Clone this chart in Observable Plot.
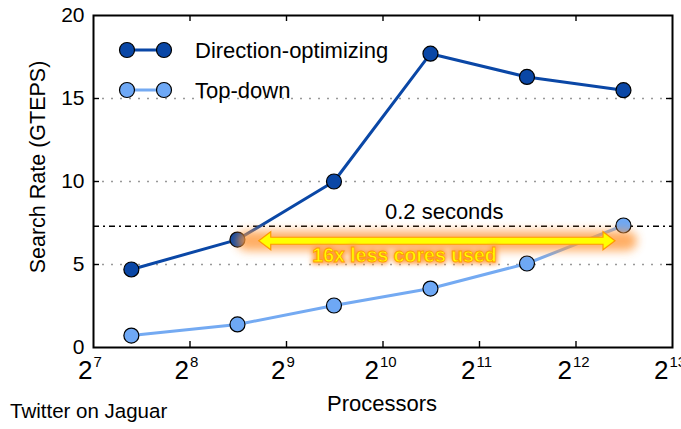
<!DOCTYPE html>
<html><head><meta charset="utf-8">
<script src="https://cdn.jsdelivr.net/npm/d3@7"></script>
<script src="https://cdn.jsdelivr.net/npm/@observablehq/plot@0.6"></script>
<style>
body{margin:0;background:#fff}
</style>
</head><body><div id="chart"></div>
<script>
// ---- data ----
const processors = [168, 360, 720, 1440, 2880, 5760];
const directionOptimizing = [4.7, 6.5, 10.0, 17.7, 16.3, 15.5];
const topDown = [0.72, 1.39, 2.53, 3.55, 5.06, 7.35];
const seriesNames = ["Direction-optimizing", "Top-down"];
const xTickExponents = [7, 8, 9, 10, 11, 12, 13];
const yTicks = [0, 5, 10, 15, 20];
const gridY = [5, 10, 15];
const thresholdRate = 7.3;
const thresholdLabel = "0.2 seconds";
const arrowLabel = "16x less cores used";
const arrowSpan = [421, 5440];
const arrowRate = 6.4;
const xLabel = "Processors";
const yLabel = "Search Rate (GTEPS)";
const caption = "Twitter on Jaguar";

const FONT = "'Liberation Sans', Arial, sans-serif";
const darkBlue = "#0a47a6", lightBlue = "#6ea8f5", lightLine = "#74aaf2";
const W = 681, H = 429, mL = 93, mR = 9, mT = 15, mB = 82;
const pw = W - mL - mR, ph = H - mT - mB;

const rowsD = processors.map((p, i) => ({p, v: directionOptimizing[i]}));
const rowsT = processors.map((p, i) => ({p, v: topDown[i]}));
const xTicks = xTickExponents.map(e => 2 ** e);
const innerTicks = xTicks.slice(1, -1);

const chart = Plot.plot({
  width: W, height: H,
  marginLeft: mL, marginRight: mR, marginTop: mT, marginBottom: mB,
  style: {fontFamily: FONT, background: "#fff", overflow: "visible"},
  x: {type: "log", base: 2, domain: [128, 8192], axis: null},
  y: {domain: [0, 20], axis: null},
  marks: [
    Plot.ruleY(gridY, {stroke: "#999", strokeWidth: 1.3, strokeDasharray: "2,7"}),
    Plot.ruleY([thresholdRate], {stroke: "#000", strokeWidth: 1.6, strokeDasharray: "6,4,2,4"}),
    // inward ticks
    Plot.ruleX(innerTicks, {x: d => d, insetTop: ph - 6, stroke: "#000", strokeWidth: 1.4}),
    Plot.ruleX(innerTicks, {x: d => d, insetBottom: ph - 6, stroke: "#000", strokeWidth: 1.4}),
    Plot.ruleY(gridY, {y: d => d, insetRight: pw - 6, stroke: "#000", strokeWidth: 1.4}),
    Plot.ruleY(gridY, {y: d => d, insetLeft: pw - 6, stroke: "#000", strokeWidth: 1.4}),
    Plot.frame({stroke: "#000", strokeWidth: 2}),
    // y tick labels
    Plot.text(yTicks, {x: 128, y: d => d, text: d => String(d), textAnchor: "end", dx: -9, fontSize: 21, fill: "#000"}),
    // x tick labels (base + exponent)
    Plot.text(xTickExponents.filter(e => e < 10), {x: e => 2 ** e, text: () => "2", frameAnchor: "bottom", textAnchor: "end", dx: -1, dy: 31, fontSize: 26, fill: "#000"}),
    Plot.text(xTickExponents.filter(e => e < 10), {x: e => 2 ** e, text: e => String(e), frameAnchor: "bottom", textAnchor: "start", dx: 0, dy: 19, fontSize: 15, fill: "#000"}),
    Plot.text(xTickExponents.filter(e => e >= 10), {x: e => 2 ** e, text: () => "2", frameAnchor: "bottom", textAnchor: "end", dx: -4, dy: 31, fontSize: 26, fill: "#000"}),
    Plot.text(xTickExponents.filter(e => e >= 10), {x: e => 2 ** e, text: e => String(e), frameAnchor: "bottom", textAnchor: "start", dx: -3, dy: 19, fontSize: 15, fill: "#000"}),
    // series
    Plot.line(rowsD, {x: "p", y: "v", stroke: darkBlue, strokeWidth: 3}),
    Plot.line(rowsT, {x: "p", y: "v", stroke: lightLine, strokeWidth: 3}),
    Plot.dot(rowsD, {x: "p", y: "v", r: 7.5, fill: darkBlue, stroke: "#000", strokeWidth: 1.2}),
    Plot.dot(rowsT, {x: "p", y: "v", r: 7.5, fill: lightBlue, stroke: "#000", strokeWidth: 1.2}),
    // threshold label
    Plot.text([thresholdLabel], {x: 1590, y: thresholdRate, text: d => d, dy: -14, fontSize: 22, fill: "#000"})
  ]
});

document.getElementById("chart").appendChild(chart);

// annotations (pixel layout)
const svg = d3.select(chart);
const sx = d3.scaleLog().base(2).domain([128, 8192]).range([mL, W - mR]);
const sy = d3.scaleLinear().domain([0, 20]).range([H - mB, mT]);

const defs = svg.insert("defs", ":first-child");
const f = defs.append("filter").attr("id", "glow").attr("x", "-20%").attr("y", "-200%").attr("width", "140%").attr("height", "500%");
f.append("feGaussianBlur").attr("stdDeviation", 5);
const f2 = defs.append("filter").attr("id", "tglow").attr("x", "-20%").attr("y", "-50%").attr("width", "140%").attr("height", "200%");
f2.append("feGaussianBlur").attr("stdDeviation", 2.5);

const ax0 = sx(arrowSpan[0]), ax1 = sx(arrowSpan[1]), ay = sy(arrowRate);
const ann = svg.append("g").attr("font-family", FONT);
// glow behind arrow
ann.append("rect").attr("x", ax0 - 22).attr("y", ay - 10).attr("width", ax1 - ax0 + 44).attr("height", 20)
  .attr("rx", 10).attr("fill", "#ff9a3c").attr("opacity", 0.8).attr("filter", "url(#glow)");
const sh = 3.5, hh = 9, hl = 12;
const path = `M${ax0},${ay} L${ax0 + hl},${ay - hh} L${ax0 + hl},${ay - sh} L${ax1 - hl},${ay - sh} L${ax1 - hl},${ay - hh} L${ax1},${ay} L${ax1 - hl},${ay + hh} L${ax1 - hl},${ay + sh} L${ax0 + hl},${ay + sh} L${ax0 + hl},${ay + hh} Z`;
ann.append("path").attr("d", path).attr("fill", "#ffff00").attr("stroke", "#ff9900").attr("stroke-width", 1.2);
const tx = sx(1200), ty = sy(5.56);
ann.append("text").attr("x", tx).attr("y", ty).attr("text-anchor", "middle").attr("dy", "0.35em")
  .attr("font-size", 19.5).attr("font-weight", "bold").attr("fill", "#ff9a3c").attr("stroke", "#ff9a3c").attr("stroke-width", 4)
  .attr("filter", "url(#tglow)").text(arrowLabel);
ann.append("text").attr("x", tx).attr("y", ty).attr("text-anchor", "middle").attr("dy", "0.35em")
  .attr("font-size", 19.5).attr("font-weight", "bold").attr("fill", "#ffff00").attr("stroke", "#ff9900").attr("stroke-width", 0.8)
  .text(arrowLabel);

// legend
const leg = svg.append("g").attr("font-family", FONT);
[[darkBlue, darkBlue, 50], [lightLine, lightBlue, 90]].forEach(([lc, fc, y], i) => {
  leg.append("line").attr("x1", 127).attr("x2", 164).attr("y1", y).attr("y2", y).attr("stroke", lc).attr("stroke-width", 3);
  [127, 164].forEach(cx => leg.append("circle").attr("cx", cx).attr("cy", y).attr("r", 7.5).attr("fill", fc).attr("stroke", "#000").attr("stroke-width", 1.2));
  leg.append("text").attr("x", 195).attr("y", y).attr("dy", "0.36em").attr("text-anchor", "start").attr("font-size", 22).attr("fill", "#000").text(seriesNames[i]);
});

// axis titles and caption
const tg = svg.append("g").attr("font-family", FONT).attr("fill", "#000");
tg.append("text").attr("x", 382).attr("y", 411).attr("text-anchor", "middle").attr("font-size", 22).text(xLabel);
tg.append("text").attr("transform", `translate(45,167) rotate(-90)`).attr("text-anchor", "middle").attr("font-size", 21.5).text(yLabel);
tg.append("text").attr("x", 10).attr("y", 418).attr("text-anchor", "start").attr("font-size", 20.5).text(caption);
</script>
</body></html>
